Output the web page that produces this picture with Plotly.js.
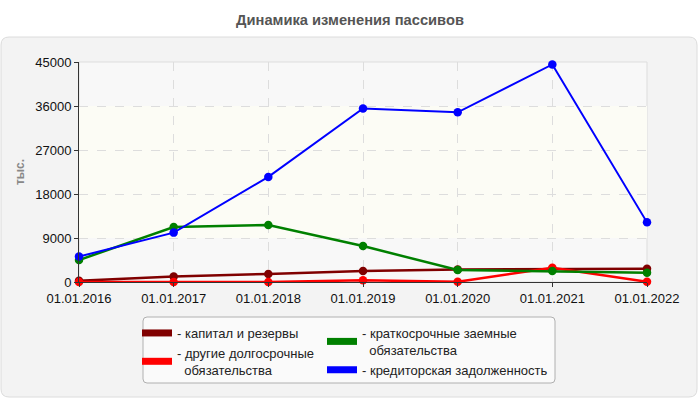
<!DOCTYPE html>
<html>
<head>
<meta charset="utf-8">
<script src="https://cdn.plot.ly/plotly-3.0.1.min.js"></script>
<style>html,body{margin:0;padding:0;background:#fff;}#chart{width:700px;height:400px;}</style>
</head>
<body>
<div id="chart"></div>
<script>
const dates = ["01.01.2016","01.01.2017","01.01.2018","01.01.2019","01.01.2020","01.01.2021","01.01.2022"];
const seriesNames = ["капитал и резервы","краткосрочные заемные<br>обязательства","другие долгосрочные<br>обязательства","кредиторская задолженность"];
const capital = [250, 1100, 1650, 2250, 2550, 2700, 2700];
const shortLoans = [4500, 11250, 11650, 7350, 2450, 2250, 1900];
const otherLong = [0, 0, 0, 350, 50, 2900, 50];
const payables = [5200, 10100, 21500, 35500, 34700, 44500, 12200];
const yTicks = [0, 9000, 18000, 27000, 36000, 45000];

const colors = ["#800000", "#008000", "#ff0000", "#0000ff"];
const values = [capital, shortLoans, otherLong, payables];
const legendOf = ["legend", "legend2", "legend", "legend2"];
const drawOrder = [0, 2, 1, 3];

const traces = [];
drawOrder.forEach(i => {
  traces.push({
    x: dates, y: values[i], type: "scatter", mode: "lines+markers",
    line: {color: colors[i], width: i === 3 ? 2 : 2.5},
    marker: {color: colors[i], size: 8.5},
    cliponaxis: false, showlegend: false, hoverinfo: "x+y"
  });
});
[0, 2, 1, 3].forEach(i => {
  traces.push({
    x: [null], y: [null], type: "scatter", mode: "lines",
    name: "- " + seriesNames[i].replace("<br>", "<br>\u00a0\u00a0"),
    line: {color: colors[i], width: 7},
    legend: legendOf[i], showlegend: true
  });
});

const L = 79, R = 647, T = 62, B = 282;
const px = x => (x - L) / (R - L);
const py = y => (B - y) / (B - T);
function roundRect(x0, y0, x1, y1, r) {
  return `M${px(x0 + r)},${py(y0)} L${px(x1 - r)},${py(y0)} Q${px(x1)},${py(y0)} ${px(x1)},${py(y0 + r)} ` +
         `L${px(x1)},${py(y1 - r)} Q${px(x1)},${py(y1)} ${px(x1 - r)},${py(y1)} ` +
         `L${px(x0 + r)},${py(y1)} Q${px(x0)},${py(y1)} ${px(x0)},${py(y1 - r)} ` +
         `L${px(x0)},${py(y0 + r)} Q${px(x0)},${py(y0)} ${px(x0 + r)},${py(y0)} Z`;
}

const layout = {
  width: 700, height: 400,
  margin: {l: L, r: 700 - R, t: T, b: 400 - B},
  paper_bgcolor: "#ffffff",
  plot_bgcolor: "#f8f8f8",
  font: {family: "Liberation Sans, Arial, sans-serif", size: 13, color: "#222"},
  title: {text: "<b>Динамика изменения пассивов</b>", x: 0.5, xanchor: "center", y: 0.95, yanchor: "middle", yref: "container",
          font: {size: 14.7, color: "#555"}},
  xaxis: {type: "category", range: [0, 6], showline: true, linecolor: "#333", linewidth: 1,
          showgrid: true, gridcolor: "#dddddd", griddash: "dash", ticks: "outside", ticklen: 4, tickcolor: "#333",
          tickfont: {size: 13, color: "#111"}, zeroline: false, fixedrange: true},
  yaxis: {range: [0, 45000], tickvals: yTicks, ticktext: yTicks.map(String), showline: true, linecolor: "#333", linewidth: 1,
          showgrid: true, gridcolor: "#dddddd", griddash: "dash", ticks: "outside", ticklen: 4, tickcolor: "#333",
          tickfont: {size: 13, color: "#111"}, zeroline: false, fixedrange: true,
          title: {text: "<b>тыс.</b>", font: {size: 12, color: "#888"}, standoff: 8}},
  shapes: [
    {type: "path", xref: "paper", yref: "paper", layer: "below", path: roundRect(1, 37, 697, 397, 8),
     fillcolor: "#f3f3f3", line: {color: "#dcdcdc", width: 1}},
    {type: "rect", xref: "paper", yref: "paper", layer: "below", x0: 0, x1: 1, y0: 0, y1: 1,
     fillcolor: "#f8f8f8", line: {color: "#dddddd", width: 1}},
    {type: "rect", xref: "paper", yref: "y", layer: "below", x0: 0, x1: 1, y0: 9000, y1: 36000,
     fillcolor: "#fcfcf5", line: {width: 0}},
    {type: "path", xref: "paper", yref: "paper", layer: "below", path: roundRect(143, 317, 555, 383, 4),
     fillcolor: "#fafafa", line: {color: "#b0b0b0", width: 1}}
  ],
  legend: {x: px(137), y: py(318), xanchor: "left", yanchor: "top", orientation: "v", bgcolor: "rgba(0,0,0,0)",
           font: {size: 13, color: "#222"}, itemwidth: 30, tracegroupgap: 0},
  legend2: {x: px(322), y: py(318), xanchor: "left", yanchor: "top", orientation: "v", bgcolor: "rgba(0,0,0,0)",
           font: {size: 13, color: "#222"}, itemwidth: 30, tracegroupgap: 0},
  showlegend: true
};

Plotly.newPlot("chart", traces, layout, {displayModeBar: false, staticPlot: true});
</script>
</body>
</html>
